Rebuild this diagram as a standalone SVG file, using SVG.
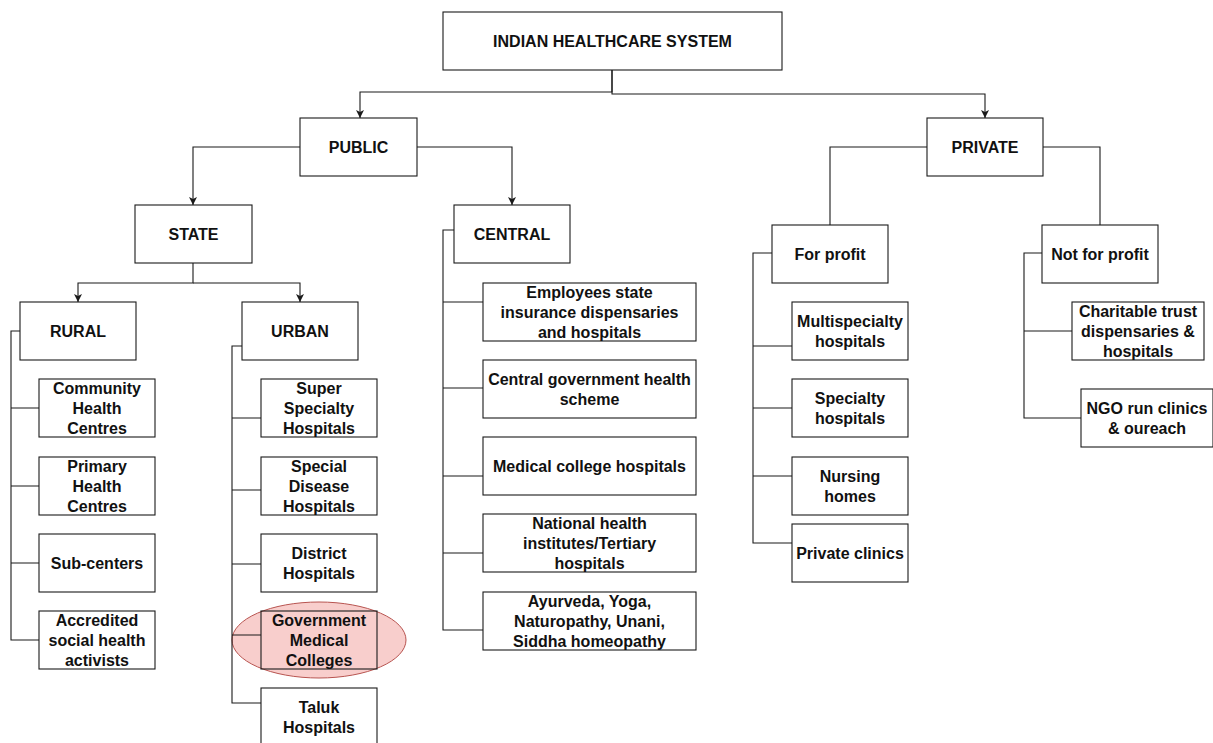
<svg xmlns="http://www.w3.org/2000/svg" width="1213" height="743" viewBox="0 0 1213 743">
  <style>
    .box { fill: #ffffff; stroke: #1a1a1a; stroke-width: 1.1; }
    .clear { fill: none; }
    .lbl { font-family: "Liberation Sans", Arial, Helvetica, sans-serif; font-size: 16px; font-weight: bold; fill: #111111; text-anchor: middle; }
    .edge { fill: none; stroke: #1a1a1a; stroke-width: 1.1; }
    .hl { fill: #f8cecc; stroke: #b85450; stroke-width: 1; }
  </style>
  <defs>
    <marker id="arrow" markerUnits="userSpaceOnUse" markerWidth="9" markerHeight="8" refX="8" refY="4" orient="auto">
      <path d="M0,0 L8,4 L0,8 L2,4 z" fill="#1a1a1a"/>
    </marker>
  </defs>

  <rect width="1213" height="743" fill="#ffffff"/>

  <!-- highlight behind the medical colleges box -->
  <g id="highlight">
    <ellipse class="hl" cx="319" cy="640" rx="87" ry="38"/>
  </g>

  <g id="connectors">
    <path class="edge" d="M612,70 V92 H360 V118" marker-end="url(#arrow)"/>
    <path class="edge" d="M612,70 V94 H985 V118" marker-end="url(#arrow)"/>
    <path class="edge" d="M300,147 H193 V205" marker-end="url(#arrow)"/>
    <path class="edge" d="M417,147 H512 V205" marker-end="url(#arrow)"/>
    <path class="edge" d="M927,147 H830 V225"/>
    <path class="edge" d="M1043,147 H1100 V225"/>
    <path class="edge" d="M193,263 V283 H78 V302" marker-end="url(#arrow)"/>
    <path class="edge" d="M193,283 H300 V302" marker-end="url(#arrow)"/>
    <!-- rural branch -->
    <path class="edge" d="M20,331 H11 V640 H39 M11,408 H39 M11,486 H39 M11,563 H39"/>
    <!-- urban branch -->
    <path class="edge" d="M242,346 H232 V703 H261 M232,418 H261 M232,490 H261 M232,564 H261 M232,635 H261"/>
    <!-- central branch -->
    <path class="edge" d="M454,230 H443 V630 H483 M443,302 H483 M443,388 H483 M443,476 H483 M443,553 H483"/>
    <!-- for profit branch -->
    <path class="edge" d="M772,253 H753 V543 H792 M753,346 H792 M753,408 H792 M753,476 H792"/>
    <!-- not for profit branch -->
    <path class="edge" d="M1042,253 H1024 V418 H1081 M1024,331 H1072"/>
  </g>

  <g id="root">
    <rect class="box" x="443" y="12" width="339" height="58"/>
    <text class="lbl" x="612.5" y="47">INDIAN HEALTHCARE SYSTEM</text>
  </g>
  <g id="public">
    <rect class="box" x="300" y="118" width="117" height="58"/>
    <text class="lbl" x="358.5" y="153">PUBLIC</text>
  </g>
  <g id="private">
    <rect class="box" x="927" y="118" width="116" height="58"/>
    <text class="lbl" x="985" y="153">PRIVATE</text>
  </g>
  <g id="state">
    <rect class="box" x="135" y="205" width="117" height="58"/>
    <text class="lbl" x="193.5" y="240">STATE</text>
  </g>
  <g id="central">
    <rect class="box" x="454" y="205" width="116" height="58"/>
    <text class="lbl" x="512" y="240">CENTRAL</text>
  </g>
  <g id="rural">
    <rect class="box" x="20" y="302" width="116" height="58"/>
    <text class="lbl" x="78" y="337">RURAL</text>
  </g>
  <g id="urban">
    <rect class="box" x="242" y="302" width="116" height="58"/>
    <text class="lbl" x="300" y="337">URBAN</text>
  </g>
  <g id="for-profit">
    <rect class="box" x="772" y="225" width="116" height="58"/>
    <text class="lbl" x="830" y="260">For profit</text>
  </g>
  <g id="not-for-profit">
    <rect class="box" x="1042" y="225" width="116" height="58"/>
    <text class="lbl" x="1100" y="260">Not for profit</text>
  </g>

  <!-- rural facilities -->
  <g id="chc">
    <rect class="box" x="39" y="379" width="116" height="58"/>
    <text class="lbl" x="97" y="394">Community</text>
    <text class="lbl" x="97" y="414">Health</text>
    <text class="lbl" x="97" y="434">Centres</text>
  </g>
  <g id="phc">
    <rect class="box" x="39" y="457" width="116" height="58"/>
    <text class="lbl" x="97" y="472">Primary</text>
    <text class="lbl" x="97" y="492">Health</text>
    <text class="lbl" x="97" y="512">Centres</text>
  </g>
  <g id="sub-centers">
    <rect class="box" x="39" y="534" width="116" height="58"/>
    <text class="lbl" x="97" y="569">Sub-centers</text>
  </g>
  <g id="asha">
    <rect class="box" x="39" y="611" width="116" height="58"/>
    <text class="lbl" x="97" y="626">Accredited</text>
    <text class="lbl" x="97" y="646">social health</text>
    <text class="lbl" x="97" y="666">activists</text>
  </g>

  <!-- urban facilities -->
  <g id="super-specialty">
    <rect class="box" x="261" y="379" width="116" height="58"/>
    <text class="lbl" x="319" y="394">Super</text>
    <text class="lbl" x="319" y="414">Specialty</text>
    <text class="lbl" x="319" y="434">Hospitals</text>
  </g>
  <g id="special-disease">
    <rect class="box" x="261" y="457" width="116" height="58"/>
    <text class="lbl" x="319" y="472">Special</text>
    <text class="lbl" x="319" y="492">Disease</text>
    <text class="lbl" x="319" y="512">Hospitals</text>
  </g>
  <g id="district">
    <rect class="box" x="261" y="534" width="116" height="58"/>
    <text class="lbl" x="319" y="559">District</text>
    <text class="lbl" x="319" y="579">Hospitals</text>
  </g>
  <g id="medical-colleges">
    <rect class="box clear" x="261" y="611" width="116" height="58"/>
    <text class="lbl" x="319" y="626">Government</text>
    <text class="lbl" x="319" y="646">Medical</text>
    <text class="lbl" x="319" y="666">Colleges</text>
  </g>
  <g id="taluk">
    <rect class="box" x="261" y="688" width="116" height="58"/>
    <text class="lbl" x="319" y="713">Taluk</text>
    <text class="lbl" x="319" y="733">Hospitals</text>
  </g>

  <!-- central facilities -->
  <g id="esi">
    <rect class="box" x="483" y="283" width="213" height="58"/>
    <text class="lbl" x="589.5" y="298">Employees state</text>
    <text class="lbl" x="589.5" y="318">insurance dispensaries</text>
    <text class="lbl" x="589.5" y="338">and hospitals</text>
  </g>
  <g id="cghs">
    <rect class="box" x="483" y="360" width="213" height="58"/>
    <text class="lbl" x="589.5" y="385">Central government health</text>
    <text class="lbl" x="589.5" y="405">scheme</text>
  </g>
  <g id="medical-college-hospitals">
    <rect class="box" x="483" y="437" width="213" height="58"/>
    <text class="lbl" x="589.5" y="472">Medical college hospitals</text>
  </g>
  <g id="national-institutes">
    <rect class="box" x="483" y="514" width="213" height="58"/>
    <text class="lbl" x="589.5" y="529">National health</text>
    <text class="lbl" x="589.5" y="549">institutes/Tertiary</text>
    <text class="lbl" x="589.5" y="569">hospitals</text>
  </g>
  <g id="ayush">
    <rect class="box" x="483" y="592" width="213" height="58"/>
    <text class="lbl" x="589.5" y="607">Ayurveda, Yoga,</text>
    <text class="lbl" x="589.5" y="627">Naturopathy, Unani,</text>
    <text class="lbl" x="589.5" y="647">Siddha homeopathy</text>
  </g>

  <!-- for profit facilities -->
  <g id="multispecialty">
    <rect class="box" x="792" y="302" width="116" height="58"/>
    <text class="lbl" x="850" y="327">Multispecialty</text>
    <text class="lbl" x="850" y="347">hospitals</text>
  </g>
  <g id="specialty">
    <rect class="box" x="792" y="379" width="116" height="58"/>
    <text class="lbl" x="850" y="404">Specialty</text>
    <text class="lbl" x="850" y="424">hospitals</text>
  </g>
  <g id="nursing-homes">
    <rect class="box" x="792" y="457" width="116" height="58"/>
    <text class="lbl" x="850" y="482">Nursing</text>
    <text class="lbl" x="850" y="502">homes</text>
  </g>
  <g id="private-clinics">
    <rect class="box" x="792" y="524" width="116" height="58"/>
    <text class="lbl" x="850" y="559">Private clinics</text>
  </g>

  <!-- not for profit facilities -->
  <g id="charitable">
    <rect class="box" x="1072" y="302" width="132" height="58"/>
    <text class="lbl" x="1138" y="317">Charitable trust</text>
    <text class="lbl" x="1138" y="337">dispensaries &amp;</text>
    <text class="lbl" x="1138" y="357">hospitals</text>
  </g>
  <g id="ngo">
    <rect class="box" x="1081" y="389" width="132" height="58"/>
    <text class="lbl" x="1147" y="414">NGO run clinics</text>
    <text class="lbl" x="1147" y="434">&amp; oureach</text>
  </g>
</svg>
